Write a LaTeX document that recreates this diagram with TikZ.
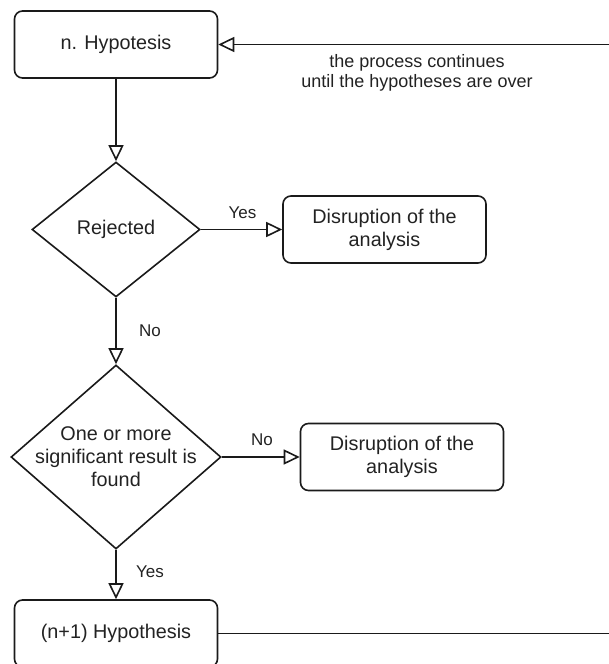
\documentclass[tikz,border=0pt]{standalone}
\usepackage{fontspec}
\setmainfont{Liberation Sans}
\usetikzlibrary{arrows.meta,shapes.geometric}
\definecolor{ink}{HTML}{1A1A1A}
\definecolor{txt}{HTML}{222222}
\tikzset{
  stepbox/.style={draw=ink, line width=1.6pt, rounded corners=8pt,
    minimum width=203pt, minimum height=67pt, inner sep=0pt,
    align=center, text=txt, font=\fontsize{19.8}{23}\selectfont},
  decision/.style={draw=ink, line width=1.6pt, shape=diamond, inner sep=0pt},
  decisiontext/.style={align=center, text=txt, font=\fontsize{19.8}{23}\selectfont},
  flow/.style={draw=ink, line width=1.6pt,
    -{Triangle[open, length=16pt, width=15pt, line width=1.6pt]}},
  edgelabel/.style={text=txt, font=\fontsize{17}{20}\selectfont, inner sep=0pt},
  notelabel/.style={text=txt, align=center, font=\fontsize{18}{20}\selectfont, inner sep=0pt}
}
\begin{document}
\begin{tikzpicture}[x=1pt, y=-1pt]
  \useasboundingbox (0,0) rectangle (609,664);

  % process boxes
  \node[stepbox] (h1) at (116,44.5) {n. Hypotesis};
  \node[stepbox] (dis1) at (384.5,229.5) {Disruption of the\\analysis};
  \node[stepbox] (dis2) at (402,457) {Disruption of the\\analysis};
  \node[stepbox] (h2) at (116,633.5) {(n+1) Hypothesis};

  % decisions
  \node[decision, minimum width=168pt, minimum height=135pt] (d1) at (116,229.5) {};
  \node[decisiontext] (d1t) at (d1) {Rejected};
  \node[decision, minimum width=210pt, minimum height=184pt] (d2) at (116,457) {};
  \node[decisiontext] (d2t) at (d2) {One or more\\significant result is\\found};

  % loop back to the next hypothesis
  \coordinate (loopB) at (622,633.5);
  \coordinate (loopT) at (622,44.5);

  % connectors
  \draw[flow] (h1) -- (d1);
  \draw[flow] (d1) -- (dis1);
  \draw[flow] (d1) -- (d2);
  \draw[flow] (d2) -- (dis2);
  \draw[flow] (d2) -- (h2);
  \draw[flow] (h2) -- (loopB) -- (loopT) -- (h1);

  % labels
  \node[edgelabel] (lyes1) at (242.5,213) {Yes};
  \node[edgelabel] (lno1) at (150,331) {No};
  \node[edgelabel] (lno2) at (262,440) {No};
  \node[edgelabel] (lyes2) at (150,572) {Yes};
  \node[notelabel] (note) at (417,73) {the process continues\\until the hypotheses are over};
\end{tikzpicture}
\end{document}
